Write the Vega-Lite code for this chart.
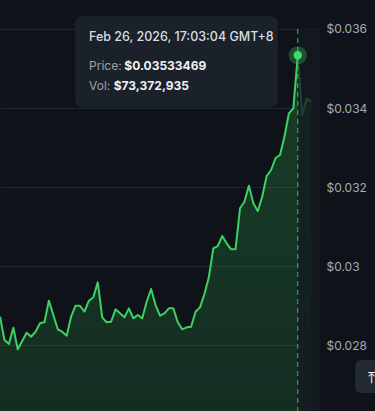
{
  "$schema": "https://vega.github.io/schema/vega-lite/v6.json",
  "width": 320,
  "height": 411,
  "autosize": {"type": "none"},
  "padding": {"left": 0, "top": 0, "right": 55, "bottom": 0},
  "background": "#0f1319",
  "config": {
    "view": {"stroke": null},
    "font": "Inter",
    "axis": {"labelFont": "Inter"}
  },
  "datasets": {
    "prices": [
      {"time": "2026-02-25T18:43:04", "price": 0.028717},
      {"time": "2026-02-25T19:03:04", "price": 0.028127},
      {"time": "2026-02-25T19:23:04", "price": 0.028025},
      {"time": "2026-02-25T19:43:04", "price": 0.028438},
      {"time": "2026-02-25T20:03:04", "price": 0.027891},
      {"time": "2026-02-25T20:23:04", "price": 0.028101},
      {"time": "2026-02-25T20:43:04", "price": 0.028311},
      {"time": "2026-02-25T21:03:04", "price": 0.028210},
      {"time": "2026-02-25T21:23:04", "price": 0.028337},
      {"time": "2026-02-25T21:43:04", "price": 0.028549},
      {"time": "2026-02-25T22:03:04", "price": 0.028575},
      {"time": "2026-02-25T22:23:04", "price": 0.029122},
      {"time": "2026-02-25T22:43:04", "price": 0.028760},
      {"time": "2026-02-25T23:03:04", "price": 0.028398},
      {"time": "2026-02-25T23:23:04", "price": 0.028337},
      {"time": "2026-02-25T23:43:04", "price": 0.028236},
      {"time": "2026-02-26T00:03:04", "price": 0.028717},
      {"time": "2026-02-26T00:23:04", "price": 0.028995},
      {"time": "2026-02-26T00:43:04", "price": 0.028995},
      {"time": "2026-02-26T01:03:04", "price": 0.028843},
      {"time": "2026-02-26T01:23:04", "price": 0.029122},
      {"time": "2026-02-26T01:43:04", "price": 0.029208},
      {"time": "2026-02-26T02:03:04", "price": 0.029587},
      {"time": "2026-02-26T02:23:04", "price": 0.028701},
      {"time": "2026-02-26T02:43:04", "price": 0.028575},
      {"time": "2026-02-26T03:03:04", "price": 0.028590},
      {"time": "2026-02-26T03:23:04", "price": 0.028904},
      {"time": "2026-02-26T03:43:04", "price": 0.028803},
      {"time": "2026-02-26T04:03:04", "price": 0.028701},
      {"time": "2026-02-26T04:23:04", "price": 0.028929},
      {"time": "2026-02-26T04:43:04", "price": 0.028676},
      {"time": "2026-02-26T05:03:04", "price": 0.028760},
      {"time": "2026-02-26T05:23:04", "price": 0.028676},
      {"time": "2026-02-26T05:43:04", "price": 0.029096},
      {"time": "2026-02-26T06:03:04", "price": 0.029418},
      {"time": "2026-02-26T06:23:04", "price": 0.029013},
      {"time": "2026-02-26T06:43:04", "price": 0.028742},
      {"time": "2026-02-26T07:03:04", "price": 0.028803},
      {"time": "2026-02-26T07:23:04", "price": 0.028929},
      {"time": "2026-02-26T07:43:04", "price": 0.028929},
      {"time": "2026-02-26T08:03:04", "price": 0.028575},
      {"time": "2026-02-26T08:23:04", "price": 0.028398},
      {"time": "2026-02-26T08:43:04", "price": 0.028448},
      {"time": "2026-02-26T09:03:04", "price": 0.028463},
      {"time": "2026-02-26T09:23:04", "price": 0.028843},
      {"time": "2026-02-26T09:43:04", "price": 0.028954},
      {"time": "2026-02-26T10:03:04", "price": 0.029291},
      {"time": "2026-02-26T10:23:04", "price": 0.029722},
      {"time": "2026-02-26T10:43:04", "price": 0.030448},
      {"time": "2026-02-26T11:03:04", "price": 0.030506},
      {"time": "2026-02-26T11:23:04", "price": 0.030760},
      {"time": "2026-02-26T11:43:04", "price": 0.030575},
      {"time": "2026-02-26T12:03:04", "price": 0.030423},
      {"time": "2026-02-26T12:23:04", "price": 0.030423},
      {"time": "2026-02-26T12:43:04", "price": 0.031461},
      {"time": "2026-02-26T13:03:04", "price": 0.031628},
      {"time": "2026-02-26T13:23:04", "price": 0.032033},
      {"time": "2026-02-26T13:43:04", "price": 0.031587},
      {"time": "2026-02-26T14:03:04", "price": 0.031392},
      {"time": "2026-02-26T14:23:04", "price": 0.031755},
      {"time": "2026-02-26T14:43:04", "price": 0.032278},
      {"time": "2026-02-26T15:03:04", "price": 0.032430},
      {"time": "2026-02-26T15:23:04", "price": 0.032734},
      {"time": "2026-02-26T15:43:04", "price": 0.032810},
      {"time": "2026-02-26T16:03:04", "price": 0.033273},
      {"time": "2026-02-26T16:23:04", "price": 0.033866},
      {"time": "2026-02-26T16:43:04", "price": 0.033992},
      {"time": "2026-02-26T17:03:04", "price": 0.03533469},
      {"time": "2026-02-26T17:23:04", "price": 0.033823},
      {"time": "2026-02-26T17:43:04", "price": 0.034241},
      {"time": "2026-02-26T18:03:04", "price": 0.034160}
    ],
    "hover": [
      {"time": "2026-02-26T17:03:04", "price": 0.03533469, "vol": 73372935}
    ]
  },
  "layer": [
    {
      "data": {"name": "prices"},
      "mark": {
        "type": "area",
        "fill": {
          "gradient": "linear",
          "x1": 0, "y1": 0, "x2": 0, "y2": 1,
          "stops": [
            {"offset": 0, "color": "rgba(52,200,90,0.24)"},
            {"offset": 0.4, "color": "rgba(52,200,90,0.09)"},
            {"offset": 0.7, "color": "rgba(52,200,90,0.03)"},
            {"offset": 1, "color": "rgba(52,200,90,0.0)"}
          ]
        }
      },
      "encoding": {
        "x": {
          "field": "time", "type": "temporal",
          "scale": {"domain": [
            {"year": 2026, "month": "Feb", "date": 25, "hours": 18, "minutes": 43, "seconds": 4},
            {"year": 2026, "month": "Feb", "date": 26, "hours": 18, "minutes": 43, "seconds": 4}
          ]},
          "axis": null
        },
        "y": {
          "field": "price", "type": "quantitative",
          "scale": {"domain": [0.02633, 0.036734], "nice": false, "zero": false},
          "axis": {
            "orient": "right",
            "values": [0.028, 0.03, 0.032, 0.034, 0.036],
            "format": "$.3~f",
            "title": null,
            "domain": false,
            "ticks": false,
            "grid": true,
            "gridColor": "#20262e",
            "gridWidth": 1,
            "labelColor": "#a3abb9",
            "labelFontSize": 12,
            "labelPadding": 6,
            "labelBaseline": "middle"
          }
        }
      }
    },
    {
      "data": {"name": "prices"},
      "mark": {"type": "line", "stroke": "#3dd163", "strokeWidth": 2, "strokeJoin": "round"},
      "encoding": {
        "x": {"field": "time", "type": "temporal"},
        "y": {"field": "price", "type": "quantitative"}
      }
    },
    {
      "data": {"name": "hover"},
      "mark": {"type": "rect", "fill": "#151a21", "opacity": 0.78},
      "encoding": {
        "x": {"field": "time", "type": "temporal"},
        "x2": {"datum": {"year": 2026, "month": "Feb", "date": 26, "hours": 18, "minutes": 43, "seconds": 4}},
        "y": {"datum": 0.036},
        "y2": {"datum": 0.02633}
      }
    },
    {
      "data": {"name": "hover"},
      "mark": {"type": "rule", "stroke": "#33c25a", "strokeWidth": 1, "strokeDash": [5, 4]},
      "encoding": {
        "x": {"field": "time", "type": "temporal"},
        "y": {"datum": 0.036},
        "y2": {"datum": 0.02633}
      }
    },
    {
      "data": {"name": "hover"},
      "mark": {"type": "circle", "size": 330, "color": "#3dd163", "opacity": 0.3},
      "encoding": {
        "x": {"field": "time", "type": "temporal"},
        "y": {"field": "price", "type": "quantitative"}
      }
    },
    {
      "data": {"name": "hover"},
      "mark": {"type": "circle", "size": 70, "color": "#3fdc68", "opacity": 1},
      "encoding": {
        "x": {"field": "time", "type": "temporal"},
        "y": {"field": "price", "type": "quantitative"}
      }
    },
    {
      "data": {"name": "hover"},
      "mark": {"type": "rect", "fill": "#1b2129", "cornerRadius": 8},
      "encoding": {
        "x": {"datum": {"year": 2026, "month": "Feb", "date": 26, "hours": 0, "minutes": 20, "seconds": 40}},
        "x2": {"datum": {"year": 2026, "month": "Feb", "date": 26, "hours": 15, "minutes": 33, "seconds": 4}},
        "y": {"datum": 0.036329},
        "y2": {"datum": 0.034008}
      }
    },
    {
      "data": {"name": "hover"},
      "mark": {"type": "text", "align": "left", "baseline": "middle", "fontSize": 12.5, "fontWeight": 500, "color": "#d8dde3"},
      "encoding": {
        "x": {"datum": {"year": 2026, "month": "Feb", "date": 26, "hours": 1, "minutes": 23, "seconds": 40}},
        "y": {"datum": 0.03579},
        "text": {"field": "time", "type": "temporal", "format": "%b %d, %Y, %H:%M:%S GMT+8"}
      }
    },
    {
      "data": {"name": "hover"},
      "mark": {"type": "text", "align": "left", "baseline": "middle", "fontSize": 12, "color": "#9aa3ae", "text": "Price:"},
      "encoding": {
        "x": {"datum": {"year": 2026, "month": "Feb", "date": 26, "hours": 1, "minutes": 23, "seconds": 40}},
        "y": {"datum": 0.035071}
      }
    },
    {
      "data": {"name": "hover"},
      "mark": {"type": "text", "align": "left", "baseline": "middle", "fontSize": 12, "fontWeight": "bold", "color": "#eef1f4"},
      "encoding": {
        "x": {"datum": {"year": 2026, "month": "Feb", "date": 26, "hours": 4, "minutes": 2, "seconds": 34}},
        "y": {"datum": 0.035071},
        "text": {"field": "price", "type": "quantitative", "format": "$.8f"}
      }
    },
    {
      "data": {"name": "hover"},
      "mark": {"type": "text", "align": "left", "baseline": "middle", "fontSize": 12, "color": "#9aa3ae", "text": "Vol:"},
      "encoding": {
        "x": {"datum": {"year": 2026, "month": "Feb", "date": 26, "hours": 1, "minutes": 23, "seconds": 40}},
        "y": {"datum": 0.034565}
      }
    },
    {
      "data": {"name": "hover"},
      "mark": {"type": "text", "align": "left", "baseline": "middle", "fontSize": 12, "fontWeight": "bold", "color": "#eef1f4"},
      "encoding": {
        "x": {"datum": {"year": 2026, "month": "Feb", "date": 26, "hours": 3, "minutes": 14, "seconds": 52}},
        "y": {"datum": 0.034565},
        "text": {"field": "vol", "type": "quantitative", "format": "$,d"}
      }
    },
    {
      "data": {"name": "hover"},
      "mark": {"type": "rect", "fill": "#222a33", "cornerRadius": 6},
      "encoding": {
        "x": {"datum": {"year": 2026, "month": "Feb", "date": 26, "hours": 21, "minutes": 21, "seconds": 4}},
        "x2": {"datum": {"year": 2026, "month": "Feb", "date": 26, "hours": 23, "minutes": 23, "seconds": 4}},
        "y": {"datum": 0.02762},
        "y2": {"datum": 0.026785}
      }
    },
    {
      "data": {"name": "hover"},
      "mark": {"type": "text", "align": "left", "baseline": "middle", "fontSize": 16, "font": "DejaVu Sans", "color": "#ffffff", "text": "⤒"},
      "encoding": {
        "x": {"datum": {"year": 2026, "month": "Feb", "date": 26, "hours": 22, "minutes": 19, "seconds": 40}},
        "y": {"datum": 0.027165}
      }
    }
  ]
}
